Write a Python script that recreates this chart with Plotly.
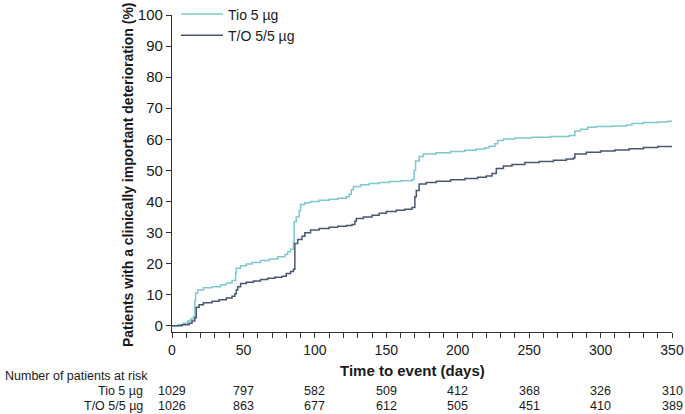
import plotly.graph_objects as go

# ---- data ----
tio_days = [0, 4, 8, 11, 13, 15, 16, 16.5, 18, 22, 28, 34, 38, 42, 44.5, 45, 48, 52, 56, 62, 68, 74, 79, 81, 83,
            85, 85.5, 87, 89, 90, 93, 97, 103, 110, 116, 122, 124, 125.5, 127, 132, 138, 145, 152, 160, 168,
            169.5, 170.5, 173, 176, 185, 195, 205, 213, 219, 222, 226, 228, 232, 240, 252, 265, 278, 282, 286,
            291, 297, 308, 318, 322, 330, 340, 347, 350]
tio_pct = [0, 0.3, 0.8, 1.5, 2.2, 3.0, 8.0, 10.5, 11.5, 12.2, 12.6, 13.2, 13.8, 14.6, 17.0, 18.5, 19.3, 19.9, 20.4,
           21.0, 21.5, 22.2, 22.9, 23.8, 24.6, 27.0, 33.5, 35.0, 37.0, 39.0, 39.6, 40.0, 40.4, 40.7, 41.0, 41.5,
           42.3, 43.8, 44.8, 45.4, 45.8, 46.1, 46.4, 46.7, 47.1, 50.0, 53.0, 54.5, 55.3, 55.7, 56.1, 56.5, 56.9,
           57.3, 57.8, 58.6, 59.6, 60.1, 60.4, 60.7, 60.9, 61.2, 62.7, 63.2, 63.9, 64.1, 64.3, 64.6, 65.1, 65.4,
           65.6, 65.8, 65.8]

to_days = [0, 7, 12, 14, 16, 17, 19, 22, 28, 33, 38, 42, 44, 45, 46, 48, 52, 57, 62, 67, 72, 77, 80, 83, 85,
           86, 88, 91, 93, 97, 103, 110, 116, 122, 126, 128, 129, 134, 140, 145, 150, 157, 163, 168, 170, 171,
           173, 178, 185, 195, 205, 214, 220, 224, 227, 232, 238, 247, 257, 267, 276, 281, 282, 290, 300, 310,
           320, 330, 340, 350]
to_pct = [0, 0.3, 0.8, 1.5, 2.6, 6.0, 6.8, 7.4, 7.9, 8.4, 8.9, 9.5, 10.3, 11.5, 12.6, 13.6, 14.0, 14.4, 14.9,
          15.3, 15.6, 15.9, 16.8, 17.5, 18.2, 26.5, 27.8, 28.8, 29.9, 30.8, 31.3, 31.7, 32.0, 32.3, 32.6, 33.6,
          34.5, 35.0, 35.6, 36.2, 36.8, 37.2, 37.5, 38.1, 41.5, 43.5, 45.6, 46.1, 46.5, 47.0, 47.4, 47.8, 48.2,
          49.0, 50.6, 51.4, 51.9, 52.5, 52.9, 53.3, 53.7, 54.0, 55.3, 55.8, 56.2, 56.6, 57.0, 57.4, 57.7, 57.9]

series_names = ["Tio 5 µg", "T/O 5/5 µg"]
risk_days = [0, 50, 100, 150, 200, 250, 300, 350]
risk_tio = [1029, 797, 582, 509, 412, 368, 326, 310]
risk_to = [1026, 863, 677, 612, 505, 451, 410, 389]

x_ticks = [0, 50, 100, 150, 200, 250, 300, 350]
y_ticks = [0, 10, 20, 30, 40, 50, 60, 70, 80, 90, 100]

FONT = "Liberation Sans, Arial, Helvetica, sans-serif"
TXT = "#1a1a1a"
C_TIO = "#7ec8cf"
C_TO = "#4a5570"

fig = go.Figure()
fig.add_trace(go.Scatter(x=tio_days, y=tio_pct, mode="lines", line=dict(color=C_TIO, width=1.5, shape="hv"),
                         name=series_names[0]))
fig.add_trace(go.Scatter(x=to_days, y=to_pct, mode="lines", line=dict(color=C_TO, width=1.5, shape="hv"),
                         name=series_names[1]))

ann = []
# y axis title
ann.append(dict(text="<b>Patients with a clinically important deterioration (%)</b>", textangle=-90,
                xref="paper", yref="paper", x=-0.088, y=0.495, showarrow=False,
                font=dict(size=14, family=FONT, color=TXT), xanchor="center", yanchor="middle"))
# x axis title
ann.append(dict(text="<b>Time to event (days)</b>", xref="paper", yref="paper", x=0.48, y=-0.12,
                showarrow=False, font=dict(size=15, family=FONT, color=TXT), xanchor="center", yanchor="middle"))
# risk table
ann.append(dict(text="Number of patients at risk", xref="paper", yref="paper", x=-0.338, y=-0.139,
                showarrow=False, font=dict(size=12.5, family=FONT, color=TXT), xanchor="left", yanchor="middle"))
ann.append(dict(text=series_names[0], xref="paper", yref="paper", x=-0.054, y=-0.186,
                showarrow=False, font=dict(size=12.5, family=FONT, color=TXT), xanchor="right", yanchor="middle"))
ann.append(dict(text=series_names[1], xref="paper", yref="paper", x=-0.054, y=-0.233,
                showarrow=False, font=dict(size=12.5, family=FONT, color=TXT), xanchor="right", yanchor="middle"))
for d, a, b in zip(risk_days, risk_tio, risk_to):
    ann.append(dict(text=str(a), xref="x", yref="paper", x=d, y=-0.186, showarrow=False,
                    font=dict(size=12.5, family=FONT, color=TXT), xanchor="center", yanchor="middle"))
    ann.append(dict(text=str(b), xref="x", yref="paper", x=d, y=-0.233, showarrow=False,
                    font=dict(size=12.5, family=FONT, color=TXT), xanchor="center", yanchor="middle"))

fig.update_layout(
    width=685, height=414,
    margin=dict(l=172, r=13, t=15, b=82, autoexpand=False),
    paper_bgcolor="white", plot_bgcolor="white",
    font=dict(family=FONT, color=TXT, size=14),
    showlegend=True,
    legend=dict(x=0.008, y=1.052, xanchor="left", yanchor="top", bgcolor="rgba(0,0,0,0)",
                font=dict(size=14, family=FONT, color=TXT), tracegroupgap=0, itemwidth=42),
    annotations=ann,
    xaxis=dict(range=[0, 350], tickvals=x_ticks, ticktext=[str(v) for v in x_ticks],
               showgrid=False, zeroline=False, showline=True, linecolor="#333", linewidth=1.2,
               ticks="outside", ticklen=5, tickcolor="#333", tickwidth=1.2,
               tickfont=dict(size=14, family=FONT, color=TXT),
               minor=dict(dtick=10, tick0=0, ticks="outside", ticklen=5, tickcolor="#333", tickwidth=1.2,
                          showgrid=False)),
    yaxis=dict(range=[-2, 100], tickvals=y_ticks, ticktext=[str(v) for v in y_ticks],
               showgrid=False, zeroline=False, showline=True, linecolor="#333", linewidth=1.2,
               ticks="outside", ticklen=5, tickcolor="#333", tickwidth=1.2,
               tickfont=dict(size=15, family=FONT, color=TXT)),
)

fig.write_html("out.html", config={"displayModeBar": False},
               post_script="document.body.style.margin='0';document.body.style.overflow='hidden';")
